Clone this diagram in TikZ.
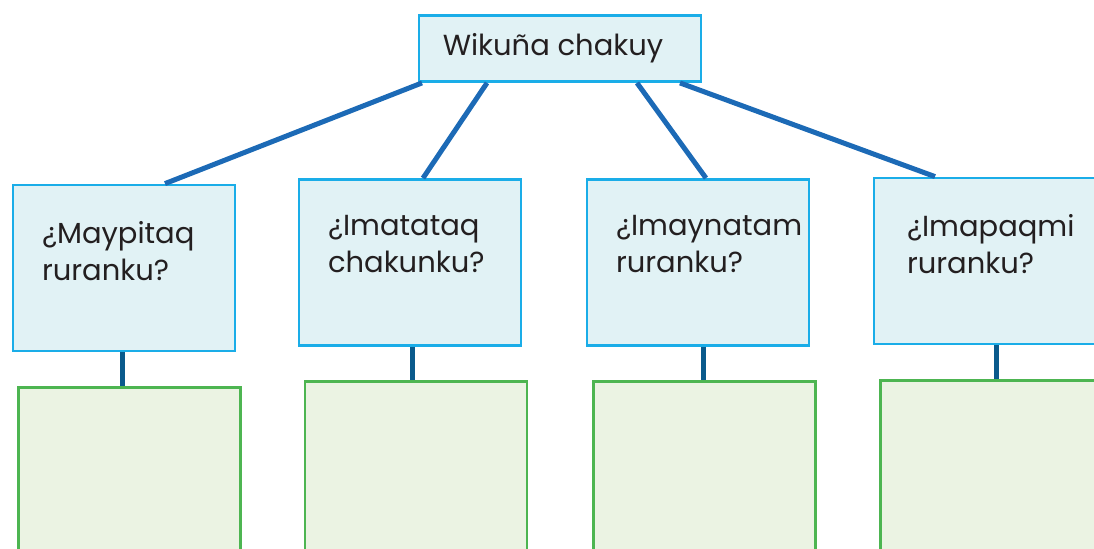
\documentclass[tikz,border=0pt]{standalone}
\usepackage{fontspec}
\setmainfont{Poppins}
\usetikzlibrary{calc}
\definecolor{wkline}{RGB}{28, 106, 182}
\definecolor{wkstem}{RGB}{10, 90, 140}
\definecolor{wkcyan}{RGB}{26, 173, 232}
\definecolor{wkfill}{RGB}{225, 242, 245}
\definecolor{wkgreen}{RGB}{77, 181, 81}
\definecolor{wkgfill}{RGB}{235, 243, 227}
\definecolor{wktext}{RGB}{35, 31, 32}

\begin{document}
\begin{tikzpicture}[x=0.5pt, y=-0.5pt,
    topbox/.style={draw=wkcyan, line width=1.4pt, fill=wkfill, minimum width=141pt, minimum height=33pt, inner sep=0pt, text=wktext, font=\fontsize{14.5}{17}\selectfont},
    qbox/.style={draw=wkcyan, line width=1.4pt, fill=wkfill, minimum width=111pt, minimum height=83pt, inner sep=0pt},
    qtext/.style={anchor=north west, inner sep=0pt, align=left, text=wktext, xshift=15pt, yshift=-18.5pt, font=\fontsize{14.5}{18.5}\selectfont},
    abox/.style={draw=wkgreen, line width=1.3pt, fill=wkgfill, minimum width=111pt, minimum height=100pt, inner sep=0pt, anchor=north},
    branch/.style={draw=wkline, line width=2.5pt},
    stem/.style={draw=wkstem, line width=2.5pt}]
            \clip (0,0) rectangle (1094,548);
            % Branch lines
            \coordinate (t) at (560,48.5);
            \coordinate (c1) at (124,268);
            \coordinate (c2) at (410,262.5);
            \coordinate (c3) at (698,262.5);
            \coordinate (c4) at (985,261);

            % Question boxes
            \node[qbox, label={[qtext]north west:{¿Maypitaq\\ruranku?}}] (q1) at (c1) {};
            \node[qbox, label={[qtext]north west:{¿Imatataq\\chakunku?}}] (q2) at (c2) {};
            \node[qbox, label={[qtext]north west:{¿Imaynatam\\ruranku?}}] (q3) at (c3) {};
            \node[qbox, label={[qtext, xshift=2pt]north west:{¿Imapaqmi\\ruranku?}}] (q4) at (c4) {};

            % Answer boxes
            \node[abox] (a1) at (129.5,386) {};
            \node[abox] (a2) at (416,380) {};
            \node[abox] (a3) at (704.5,380) {};
            \node[abox] (a4) at (991.5,379) {};

            % Top node
            \node[topbox, label={[text=wktext, font=\fontsize{14.5}{17}\selectfont, xshift=-3.5pt]center:Wikuña chakuy}] (top) at (t) {};

            % Connections
            \draw[branch] ($(top.south)+(-138,0)$) -- ($(q1.north)+(41,0)$);
            \draw[branch] ($(top.south)+(-73,0)$) -- ($(q2.north)+(13,0)$);
            \draw[branch] ($(top.south)+(77,0)$) -- ($(q3.north)+(8,0)$);
            \draw[branch] ($(top.south)+(120,0)$) -- ($(q4.north)+(-50,0)$);
            \draw[stem] ($(q1.south)+(-2,0)$) -- ($(a1.north)+(-7.5,0)$);
            \draw[stem] ($(q2.south)+(2,0)$) -- ($(a2.north)+(-4,0)$);
            \draw[stem] ($(q3.south)+(5,0)$) -- ($(a3.north)+(-1.5,0)$);
            \draw[stem] ($(q4.south)+(11,0)$) -- ($(a4.north)+(4.5,0)$);
        \end{tikzpicture}
\end{document}
